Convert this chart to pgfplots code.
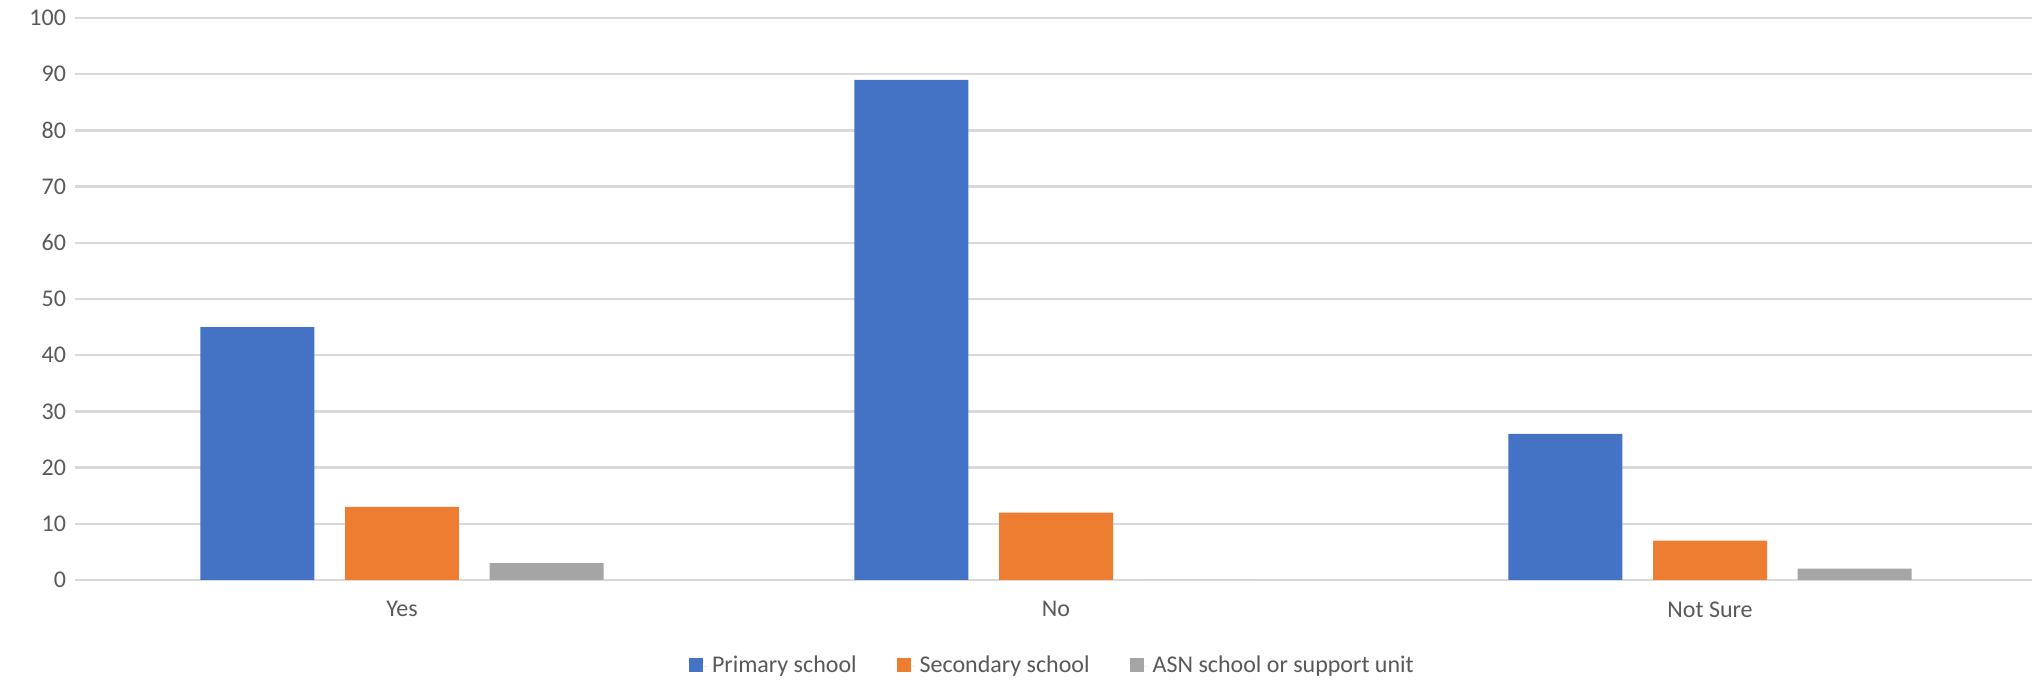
\documentclass[border=0pt]{standalone}
\usepackage{fontspec}
\setmainfont{Carlito}
\usepackage{pgfplots}
\pgfplotsset{compat=1.18}

\definecolor{xblue}{HTML}{4472C4}
\definecolor{xorange}{HTML}{ED7D31}
\definecolor{xgray}{HTML}{A5A5A5}
\definecolor{xtext}{HTML}{595959}
\definecolor{xgrid}{HTML}{D9D9D9}

\begin{document}
\begin{tikzpicture}
\begin{axis}[
  name=ax,
  scale only axis,
  width=978.5pt, height=281pt,
  xmin=-0.5, xmax=2.492,
  ymin=0, ymax=100,
  ytick={0,10,...,100},
  xtick=data,
  xticklabels={Yes,No,Not Sure},
  ybar=15.3pt,
  bar width=57pt,
  axis line style={draw=none},
  major tick style={draw=none},
  ymajorgrids,
  grid style={xgrid, line width=1.2pt},
  tick label style={font=\fontsize{12}{14}\selectfont, text=xtext},
  yticklabel style={xshift=-1pt},
  xticklabel style={yshift=-3pt},
  /pgf/number format/assume math mode=true,
  legend style={at={(0.5,0)}, yshift=-34pt, anchor=north, draw=none,
    legend columns=-1, font=\fontsize{12}{14}\selectfont, text=xtext,
    /tikz/every even column/.append style={column sep=18pt}},
  legend image code/.code={\fill[#1] (0pt,-3pt) rectangle (7pt,4pt);
    \path (0pt,0pt) -- (9.5pt,0pt);},
  clip=false,
]
\addplot[fill=xblue, draw=none] coordinates {(0,45) (1,89) (2,26)};
\addplot[fill=xorange, draw=none] coordinates {(0,13) (1,12) (2,7)};
\addplot[fill=xgray, draw=none] coordinates {(0,3) (1,0) (2,2)};
\legend{Primary school,Secondary school,ASN school or support unit}
\end{axis}
\path ([xshift=-37.5pt,yshift=-49pt]ax.south west) rectangle ([yshift=9pt]ax.north east);
\end{tikzpicture}
\end{document}
